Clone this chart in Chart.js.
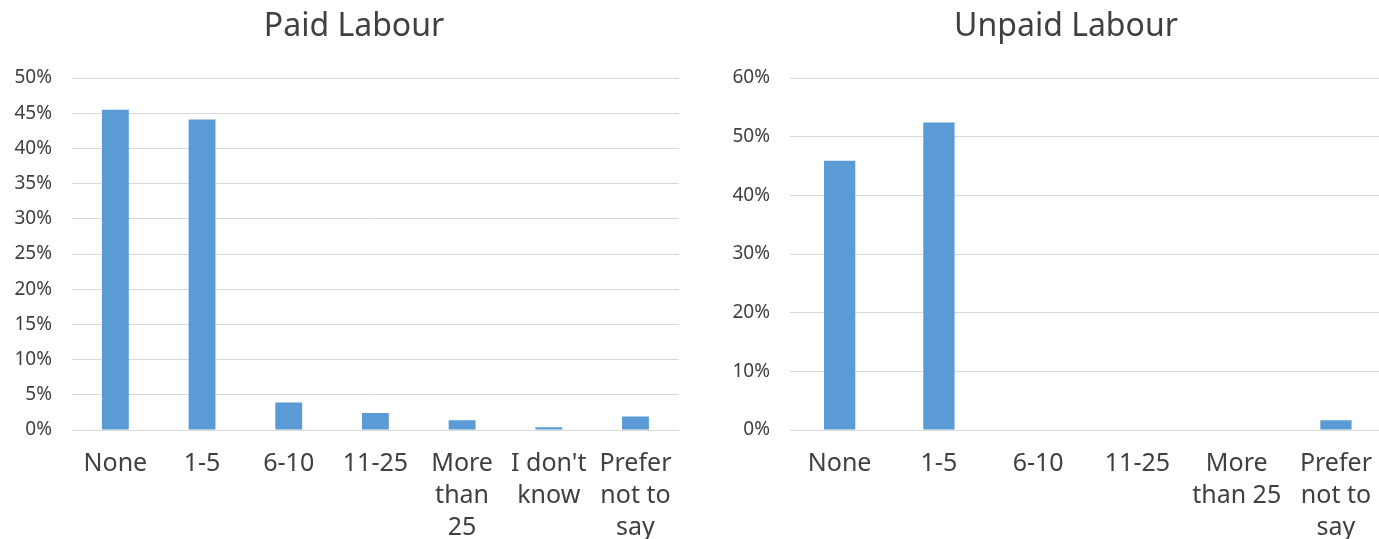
<!DOCTYPE html>
<html lang="en">
<head>
    <meta charset="UTF-8">
    <title>Paid and Unpaid Labour</title>
    <script src="https://cdn.jsdelivr.net/npm/chart.js"></script>
    <style>
        body { margin: 0; background: white; overflow: hidden; }
        .wrap { display: flex; width: 1390px; height: 539px; }
        #paidBox { width: 690px; height: 539px; flex: none; }
        #unpaidBox { width: 700px; height: 539px; flex: none; }
    </style>
</head>
<body>
    <div class="wrap">
        <div id="paidBox"><canvas id="paid"></canvas></div>
        <div id="unpaidBox"><canvas id="unpaid"></canvas></div>
    </div>

    <script>
        // Paid labour
        let paidLabels = ["None", "1-5", "6-10", "11-25", ["More", "than", "25"], ["I don't", "know"], ["Prefer", "not to", "say"]];
        let paidValues = [45.5, 44.1, 3.9, 2.4, 1.4, 0.4, 1.9];
        let paidMax = 50, paidStep = 5;

        // Unpaid labour
        let unpaidLabels = ["None", "1-5", "6-10", "11-25", ["More", "than 25"], ["Prefer", "not to", "say"]];
        let unpaidValues = [45.9, 52.4, 0, 0, 0, 1.65];
        let unpaidMax = 60, unpaidStep = 10;

        const textColor = '#404040';
        const gridColor = '#d9d9d9';
        const barColor = '#5b9bd5';
        Chart.defaults.font.family = "'Noto Sans', sans-serif";
        Chart.defaults.color = textColor;

        // title drawn at a chosen centre, since the chart's own title centres on the whole canvas
        const chartTitle = {
            id: 'chartTitle',
            afterDraw(chart, args, o) {
                const ctx = chart.ctx;
                ctx.save();
                ctx.fillStyle = textColor;
                ctx.font = "normal 32px 'Noto Sans', sans-serif";
                ctx.textAlign = 'center';
                ctx.textBaseline = 'middle';
                ctx.fillText(o.text, o.x, o.y);
                ctx.restore();
            }
        };

        function makeChart(id, title, labels, values, max, step, opts) {
            return new Chart(document.getElementById(id), {
                type: 'bar',
                data: {
                    labels: labels,
                    datasets: [{
                        data: values,
                        backgroundColor: barColor,
                        categoryPercentage: 1,
                        barPercentage: opts.barPct
                    }]
                },
                plugins: [chartTitle],
                options: {
                    responsive: true,
                    maintainAspectRatio: false,
                    animation: false,
                    layout: { padding: { left: 0, right: opts.padR, top: 78, bottom: 0 } },
                    plugins: {
                        legend: { display: false },
                        tooltip: { enabled: false },
                        chartTitle: { text: title, x: opts.titleX, y: 27 }
                    },
                    scales: {
                        x: {
                            grid: { display: false, drawTicks: false },
                            border: { color: gridColor, width: 1 },
                            ticks: {
                                maxRotation: 0,
                                autoSkip: false,
                                padding: 18,
                                color: textColor,
                                font: { size: 25, lineHeight: 1.28 }
                            },
                            afterFit: s => { s.height = 109; }
                        },
                        y: {
                            min: 0,
                            max: max,
                            grid: { color: gridColor, drawTicks: false },
                            border: { display: false },
                            ticks: {
                                stepSize: step,
                                padding: opts.tickPad,
                                color: textColor,
                                font: { size: 19 },
                                callback: v => v + '%'
                            },
                            afterFit: s => { s.width = opts.yWidth; }
                        }
                    }
                }
            });
        }

        makeChart('paid', 'Paid Labour', paidLabels, paidValues, paidMax, paidStep,
            { padR: 7, yWidth: 72, tickPad: 20, barPct: 0.31, titleX: 354 });
        makeChart('unpaid', 'Unpaid Labour', unpaidLabels, unpaidValues, unpaidMax, unpaidStep,
            { padR: 0, yWidth: 100, tickPad: 20, barPct: 0.315, titleX: 376 });
    </script>
</body>
</html>
